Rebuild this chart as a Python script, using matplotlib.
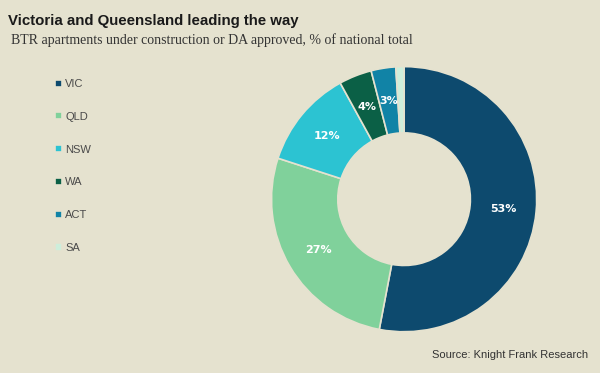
import matplotlib.pyplot as plt

states = ['VIC', 'QLD', 'NSW', 'WA', 'ACT', 'SA']
shares = [53, 27, 12, 4, 3, 1]
labels = ['53%', '27%', '12%', '4%', '3%', '']
colors = ['#0d4a6e', '#80d19b', '#2cc3d2', '#0b6046', '#1183a6', '#cdeedb']
bg = '#e5e2cf'

fig = plt.figure(figsize=(6, 3.73), dpi=100)
fig.patch.set_facecolor(bg)

fig.text(0.014, 0.945, 'Victoria and Queensland leading the way',
         fontsize=10.8, fontweight='bold', family='Liberation Sans',
         color='#1a1a1a', va='center')
fig.text(0.018, 0.893, 'BTR apartments under construction or DA approved, % of national total',
         fontsize=10, family='Liberation Serif', color='#333333', va='center')

ax = fig.add_axes([0.45, 0.107, 0.447, 0.718])
ax.set_facecolor(bg)
wedges, texts = ax.pie(shares, colors=colors, startangle=90, counterclock=False,
                       radius=1.0, labels=labels, labeldistance=0.75,
                       wedgeprops=dict(width=0.5, edgecolor=bg, linewidth=1.2),
                       textprops=dict(color='white', fontsize=8, fontweight='bold'))
for t in texts:
    t.set_ha('center')
    t.set_va('center')
ax.set_xlim(-1.01, 1.01)
ax.set_ylim(-1.01, 1.01)
ax.set_aspect('equal')

fig.legend(wedges, states, loc='upper left', bbox_to_anchor=(0.075, 0.815),
           frameon=False, labelcolor='#4a4a4a',
           handlelength=0.6, handleheight=0.6, handletextpad=0.3,
           labelspacing=2.05, prop={'family': 'Liberation Sans', 'size': 8})

fig.text(0.98, 0.048, 'Source: Knight Frank Research', fontsize=8,
         family='Liberation Sans', color='#333333', ha='right', va='center')

fig.savefig('out.png', dpi=100, facecolor=bg)
